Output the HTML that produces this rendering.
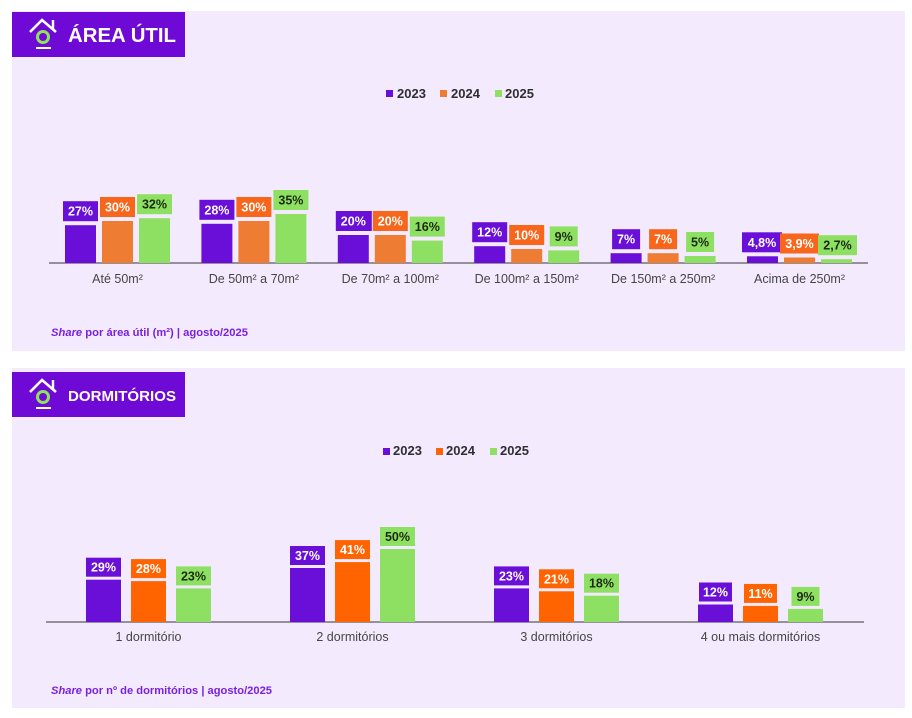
<!DOCTYPE html>
<html>
<head>
<meta charset="utf-8">
<style>
  html,body{margin:0;padding:0;background:#ffffff;}
  body{width:912px;height:718px;overflow:hidden;}
  svg{display:block;font-family:"Liberation Sans",Arial,sans-serif;}
  .lbl{font-size:12.5px;font-weight:bold;text-anchor:middle;}
  .w{fill:#ffffff;}
  .d{fill:#1c2a12;}
  .cat{font-size:12.5px;fill:#454545;text-anchor:middle;}
  .leg{font-size:13px;font-weight:bold;fill:#2e2e33;}
  .foot{font-size:11px;font-weight:bold;fill:#7a1fe0;}
</style>
</head>
<body>
<svg width="912" height="718" viewBox="0 0 912 718" xmlns="http://www.w3.org/2000/svg">
  <!-- Panels -->
  <rect x="12" y="11" width="893" height="340" fill="#f3ebfd"/>
  <rect x="12" y="368" width="893" height="340" fill="#f3ebfd"/>

  <!-- Header 1 -->
  <rect x="12" y="12" width="173" height="45" fill="#6f0ad6"/>
  <g transform="translate(0,0)">
    <polyline points="30,32 42,20 56,32" fill="none" stroke="#ffffff" stroke-width="2.6" stroke-linejoin="miter"/>
    <line x1="53" y1="20" x2="53" y2="29" stroke="#ffffff" stroke-width="2.4"/>
    <circle cx="43" cy="37" r="5.5" fill="none" stroke="#8ee35c" stroke-width="3"/>
    <line x1="36" y1="48" x2="51" y2="48" stroke="#ffffff" stroke-width="2"/>
  </g>
  <text x="68" y="42" font-size="20" font-weight="bold" fill="#ffffff" textLength="108" lengthAdjust="spacingAndGlyphs">ÁREA ÚTIL</text>

  <!-- Header 2 -->
  <rect x="12" y="372" width="173" height="45" fill="#6f0ad6"/>
  <g transform="translate(0,360)">
    <polyline points="30,32 42,20 56,32" fill="none" stroke="#ffffff" stroke-width="2.6" stroke-linejoin="miter"/>
    <line x1="53" y1="20" x2="53" y2="29" stroke="#ffffff" stroke-width="2.4"/>
    <circle cx="43" cy="37" r="5.5" fill="none" stroke="#8ee35c" stroke-width="3"/>
    <line x1="36" y1="48" x2="51" y2="48" stroke="#ffffff" stroke-width="2"/>
  </g>
  <text x="68" y="401" font-size="15" font-weight="bold" fill="#ffffff" textLength="108" lengthAdjust="spacingAndGlyphs">DORMITÓRIOS</text>

  <!-- Legend 1 -->
  <rect x="386" y="90" width="7" height="7" fill="#6a0fd8"/>
  <text class="leg" x="397" y="98">2023</text>
  <rect x="440" y="90" width="7" height="7" fill="#ee7d33"/>
  <text class="leg" x="451" y="98">2024</text>
  <rect x="495" y="90" width="7" height="7" fill="#8ee062"/>
  <text class="leg" x="505" y="98">2025</text>

  <!-- Chart 1 axis -->
  <line x1="49" y1="263" x2="868" y2="263" stroke="#77737d" stroke-width="1.5"/>

  <!-- Chart 1 groups -->
  <!-- G1 -->
  <g transform="translate(65,0)">
    <rect x="0" y="225.2" width="31" height="37.8" fill="#6a0fd8"/>
    <rect x="37" y="221" width="31" height="42" fill="#ee7d33"/>
    <rect x="74" y="218.2" width="31" height="44.8" fill="#8ee062"/>
    <rect x="-2" y="201.2" width="35" height="20" fill="#6a0fd8"/>
    <text class="lbl w" x="15.5" y="215.7">27%</text>
    <rect x="35" y="197" width="35" height="20" fill="#f7661a"/>
    <text class="lbl w" x="52.5" y="211.5">30%</text>
    <rect x="72" y="194.2" width="35" height="20" fill="#8ee062"/>
    <text class="lbl d" x="89.5" y="208.7">32%</text>
    <text class="cat" x="52.5" y="283">Até 50m²</text>
  </g>
  <!-- G2 -->
  <g transform="translate(201.4,0)">
    <rect x="0" y="223.8" width="31" height="39.2" fill="#6a0fd8"/>
    <rect x="37" y="221" width="31" height="42" fill="#ee7d33"/>
    <rect x="74" y="214" width="31" height="49" fill="#8ee062"/>
    <rect x="-2" y="199.8" width="35" height="20" fill="#6a0fd8"/>
    <text class="lbl w" x="15.5" y="214.3">28%</text>
    <rect x="35" y="197" width="35" height="20" fill="#f7661a"/>
    <text class="lbl w" x="52.5" y="211.5">30%</text>
    <rect x="72" y="190" width="35" height="20" fill="#8ee062"/>
    <text class="lbl d" x="89.5" y="204.5">35%</text>
    <text class="cat" x="52.5" y="283">De 50m² a 70m²</text>
  </g>
  <!-- G3 -->
  <g transform="translate(337.8,0)">
    <rect x="0" y="235" width="31" height="28" fill="#6a0fd8"/>
    <rect x="37" y="235" width="31" height="28" fill="#ee7d33"/>
    <rect x="74" y="240.6" width="31" height="22.4" fill="#8ee062"/>
    <rect x="-2" y="211" width="36" height="20" fill="#6a0fd8"/>
    <text class="lbl w" x="15.5" y="225.5">20%</text>
    <rect x="35" y="211" width="35" height="20" fill="#f7661a"/>
    <text class="lbl w" x="52.5" y="225.5">20%</text>
    <rect x="72" y="216.6" width="35" height="20" fill="#8ee062"/>
    <text class="lbl d" x="89.5" y="231.1">16%</text>
    <text class="cat" x="52.5" y="283">De 70m² a 100m²</text>
  </g>
  <!-- G4 -->
  <g transform="translate(474.2,0)">
    <rect x="0" y="246.2" width="31" height="16.8" fill="#6a0fd8"/>
    <rect x="37" y="249" width="31" height="14" fill="#ee7d33"/>
    <rect x="74" y="250.4" width="31" height="12.6" fill="#8ee062"/>
    <rect x="-2" y="222.2" width="35" height="20" fill="#6a0fd8"/>
    <text class="lbl w" x="15.5" y="236.7">12%</text>
    <rect x="35" y="225" width="35" height="20" fill="#f7661a"/>
    <text class="lbl w" x="52.5" y="239.5">10%</text>
    <rect x="75.5" y="226.4" width="28" height="20" fill="#8ee062"/>
    <text class="lbl d" x="89.5" y="240.9">9%</text>
    <text class="cat" x="52.5" y="283">De 100m² a 150m²</text>
  </g>
  <!-- G5 -->
  <g transform="translate(610.6,0)">
    <rect x="0" y="253.2" width="31" height="9.8" fill="#6a0fd8"/>
    <rect x="37" y="253.2" width="31" height="9.8" fill="#ee7d33"/>
    <rect x="74" y="256" width="31" height="7" fill="#8ee062"/>
    <rect x="1.5" y="229.2" width="28" height="20" fill="#6a0fd8"/>
    <text class="lbl w" x="15.5" y="243.7">7%</text>
    <rect x="38.5" y="229.2" width="28" height="20" fill="#f7661a"/>
    <text class="lbl w" x="52.5" y="243.7">7%</text>
    <rect x="75.5" y="232" width="28" height="20" fill="#8ee062"/>
    <text class="lbl d" x="89.5" y="246.5">5%</text>
    <text class="cat" x="52.5" y="283">De 150m² a 250m²</text>
  </g>
  <!-- G6 -->
  <g transform="translate(747,0)">
    <rect x="0" y="256.3" width="31" height="6.7" fill="#6a0fd8"/>
    <rect x="37" y="257.5" width="31" height="5.5" fill="#ee7d33"/>
    <rect x="74" y="259.2" width="31" height="3.8" fill="#8ee062"/>
    <rect x="-5" y="232.3" width="40" height="20" fill="#6a0fd8"/>
    <text class="lbl w" x="15" y="246.8">4,8%</text>
    <rect x="33" y="233.5" width="39" height="20" fill="#f7661a"/>
    <text class="lbl w" x="52.5" y="248">3,9%</text>
    <rect x="71" y="235.2" width="39" height="20" fill="#8ee062"/>
    <text class="lbl d" x="90.5" y="249.7">2,7%</text>
    <text class="cat" x="52.5" y="283">Acima de 250m²</text>
  </g>

  <!-- Footnote 1 -->
  <text class="foot" x="51" y="336" textLength="197" lengthAdjust="spacingAndGlyphs"><tspan font-style="italic">Share</tspan> por área útil (m²) | agosto/2025</text>

  <!-- Legend 2 -->
  <rect x="383" y="448" width="7" height="7" fill="#6a0fd8"/>
  <text class="leg" x="393" y="455">2023</text>
  <rect x="436" y="448" width="7" height="7" fill="#ff6400"/>
  <text class="leg" x="446" y="455">2024</text>
  <rect x="490" y="448" width="7" height="7" fill="#8ee062"/>
  <text class="leg" x="500" y="455">2025</text>

  <!-- Chart 2 axis -->
  <line x1="46" y1="622" x2="864" y2="622" stroke="#77737d" stroke-width="1.5"/>

  <!-- Chart 2 groups -->
  <g transform="translate(86,0)">
    <rect x="0" y="579.7" width="35" height="42.3" fill="#6a0fd8"/>
    <rect x="45" y="581.1" width="35" height="40.9" fill="#ff6400"/>
    <rect x="90" y="588.4" width="35" height="33.6" fill="#8ee062"/>
    <rect x="0" y="557.7" width="35" height="19" fill="#6a0fd8"/>
    <text class="lbl w" x="17.5" y="571.7">29%</text>
    <rect x="45" y="559.1" width="35" height="19" fill="#ff6400"/>
    <text class="lbl w" x="62.5" y="573.1">28%</text>
    <rect x="90" y="566.4" width="35" height="19" fill="#8ee062"/>
    <text class="lbl d" x="107.5" y="580.4">23%</text>
    <text class="cat" x="62.5" y="641">1 dormitório</text>
  </g>
  <g transform="translate(290,0)">
    <rect x="0" y="568" width="35" height="54" fill="#6a0fd8"/>
    <rect x="45" y="562.1" width="35" height="59.9" fill="#ff6400"/>
    <rect x="90" y="549" width="35" height="73" fill="#8ee062"/>
    <rect x="0" y="546" width="35" height="19" fill="#6a0fd8"/>
    <text class="lbl w" x="17.5" y="560">37%</text>
    <rect x="45" y="540.1" width="35" height="19" fill="#ff6400"/>
    <text class="lbl w" x="62.5" y="554.1">41%</text>
    <rect x="90" y="527" width="35" height="19" fill="#8ee062"/>
    <text class="lbl d" x="107.5" y="541">50%</text>
    <text class="cat" x="62.5" y="641">2 dormitórios</text>
  </g>
  <g transform="translate(494,0)">
    <rect x="0" y="588.4" width="35" height="33.6" fill="#6a0fd8"/>
    <rect x="45" y="591.3" width="35" height="30.7" fill="#ff6400"/>
    <rect x="90" y="595.7" width="35" height="26.3" fill="#8ee062"/>
    <rect x="0" y="566.4" width="35" height="19" fill="#6a0fd8"/>
    <text class="lbl w" x="17.5" y="580.4">23%</text>
    <rect x="45" y="569.3" width="35" height="19" fill="#ff6400"/>
    <text class="lbl w" x="62.5" y="583.3">21%</text>
    <rect x="90" y="573.7" width="35" height="19" fill="#8ee062"/>
    <text class="lbl d" x="107.5" y="587.7">18%</text>
    <text class="cat" x="62.5" y="641">3 dormitórios</text>
  </g>
  <g transform="translate(698,0)">
    <rect x="0" y="604.5" width="35" height="17.5" fill="#6a0fd8"/>
    <rect x="45" y="605.9" width="35" height="16.1" fill="#ff6400"/>
    <rect x="90" y="608.9" width="35" height="13.1" fill="#8ee062"/>
    <rect x="1" y="582.5" width="33" height="19" fill="#6a0fd8"/>
    <text class="lbl w" x="17.5" y="596.5">12%</text>
    <rect x="46" y="583.9" width="33" height="19" fill="#ff6400"/>
    <text class="lbl w" x="62.5" y="597.9">11%</text>
    <rect x="93.5" y="586.9" width="28" height="19" fill="#8ee062"/>
    <text class="lbl d" x="107.5" y="600.9">9%</text>
    <text class="cat" x="62.5" y="641">4 ou mais dormitórios</text>
  </g>

  <!-- Footnote 2 -->
  <text class="foot" x="51" y="694" textLength="221" lengthAdjust="spacingAndGlyphs"><tspan font-style="italic">Share</tspan> por nº de dormitórios | agosto/2025</text>
</svg>
</body>
</html>
